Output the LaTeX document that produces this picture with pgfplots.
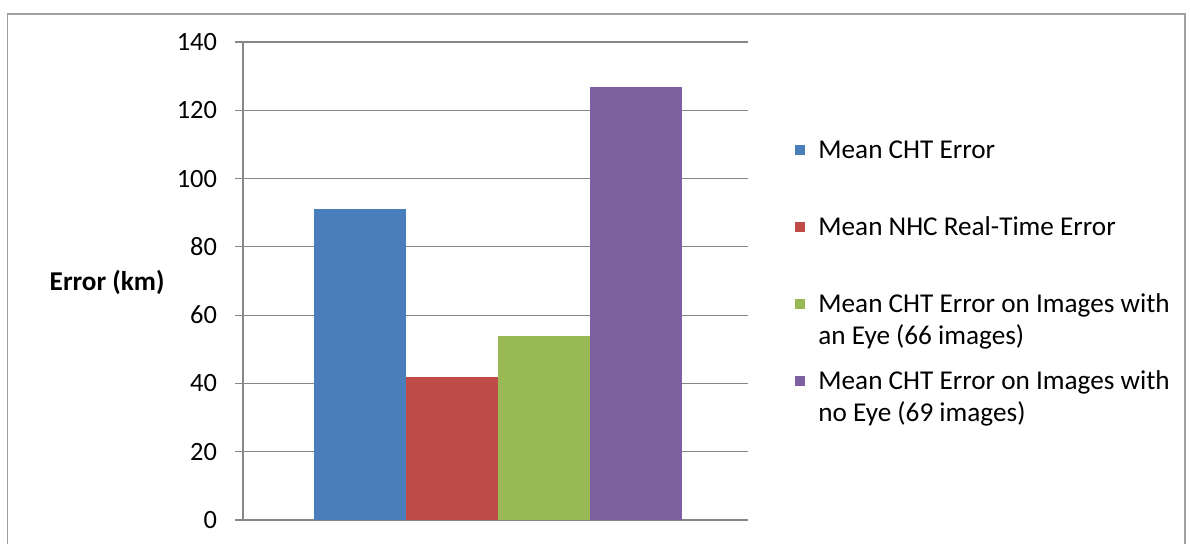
\documentclass[border=0pt]{standalone}
\usepackage{pgfplots}
\pgfplotsset{compat=1.18}
\usepackage{fontspec}
\setmainfont{Carlito}
\definecolor{cblue}{HTML}{4A7EBB}
\definecolor{cred}{HTML}{BE4B48}
\definecolor{cgreen}{HTML}{98B954}
\definecolor{cpurple}{HTML}{7D60A0}
\definecolor{gridgray}{HTML}{868686}
\definecolor{bordergray}{HTML}{A0A0A0}
\newcommand{\lent}[1]{\parbox[t]{200pt}{\fontsize{13.6}{16}\selectfont\raggedright #1}}
\begin{document}
\begin{tikzpicture}
\useasboundingbox (0,0) rectangle (595pt,272pt);
\draw[bordergray, line width=0.8pt] (3.75pt,-5pt) rectangle (592.5pt,265pt);
\begin{axis}[
  at={(121.5pt,12pt)}, anchor=south west,
  scale only axis, width=252.5pt, height=239pt,
  xmin=0, xmax=5.49, ymin=0, ymax=140,
  axis lines=left,
  axis line style={-, draw=gridgray, line width=0.6pt},
  xtick=\empty,
  ytick={0,20,...,140},
  tick align=outside,
  major tick length=4pt,
  ytick style={draw=gridgray, line width=0.6pt},
  ymajorgrids,
  grid style={draw=gridgray, line width=0.6pt},
  tick label style={font=\fontsize{13.2}{15}\selectfont},
  yticklabel style={xshift=-5.5pt},
  /pgf/number format/assume math mode=true,
  every axis y label/.style={at={(axis description cs:-0.1545,0.496)}, anchor=east, inner sep=0pt, font=\fontsize{13.6}{16}\selectfont\bfseries},
  ylabel={Error (km)},
  legend image code/.code={\path[#1] (0pt,1.8pt) rectangle (5pt,6.8pt);},
  legend style={at={(axis description cs:1.0931,0.798)}, anchor=north west,
    draw=none, fill=none, inner sep=0pt, row sep=0pt, column sep=6.5pt,
    cells={anchor=base west},
    nodes={inner sep=0pt, text height=10pt, text depth=28.5pt}},
]
\addplot[ybar, bar width=1, bar shift=0pt, fill=cblue, draw=none] coordinates {(1.27,91.1)};
\addlegendentry{\lent{Mean CHT Error}}
\addplot[ybar, bar width=1, bar shift=0pt, fill=cred, draw=none] coordinates {(2.27,41.9)};
\addlegendentry{\lent{Mean NHC Real-Time Error}}
\addplot[ybar, bar width=1, bar shift=0pt, fill=cgreen, draw=none] coordinates {(3.27,53.9)};
\addlegendentry{\lent{Mean CHT Error on Images with\\an Eye (66 images)}}
\addplot[ybar, bar width=1, bar shift=0pt, fill=cpurple, draw=none] coordinates {(4.27,126.8)};
\addlegendentry{\lent{Mean CHT Error on Images with\\no Eye (69 images)}}
\end{axis}
\end{tikzpicture}
\end{document}
